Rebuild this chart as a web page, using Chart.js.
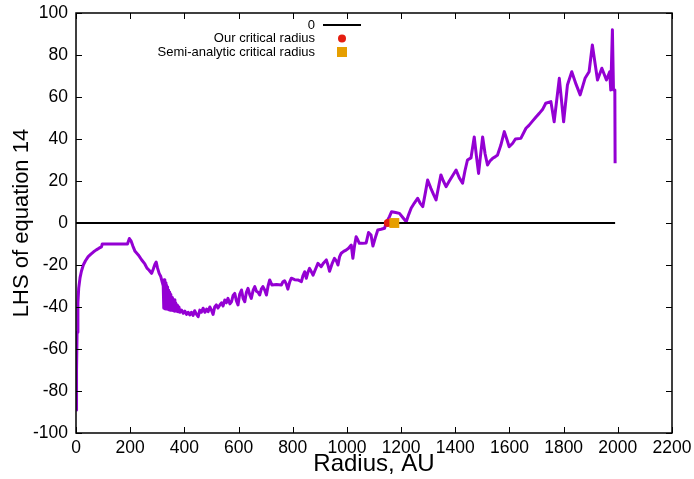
<!DOCTYPE html>
<html>
<head>
<meta charset="utf-8">
<script src="https://cdn.jsdelivr.net/npm/chart.js@4.4.1/dist/chart.umd.min.js"></script>
<style>
  html, body { margin: 0; padding: 0; background: #fff; }
  canvas { display: block; }
</style>
</head>
<body>
<canvas id="chart" width="694" height="479"></canvas>
<script>
// values
const radius = [
  1, 2, 4, 7, 10, 15, 20, 27, 35, 45, 55, 65, 75, 85, 94, 97, 190, 197, 203, 210,
  218, 230, 242, 254, 262, 270, 279, 285, 291, 296, 301, 307, 313, 318, 322, 324, 326, 328, 330, 332,
  334, 336, 338, 340, 342, 344, 346, 348, 350, 353, 356, 359, 362, 365, 368, 371, 374, 377, 380, 384,
  390, 396, 402, 408, 414, 420, 426, 432, 438, 445, 451, 457, 463, 469, 476, 482, 488, 494, 500, 506,
  512, 518, 524, 531, 537, 543, 549, 555, 561, 568, 574, 580, 586, 592, 598, 604, 611, 617, 623, 629,
  635, 641, 647, 654, 660, 666, 672, 678, 684, 690, 697, 703, 709, 715, 723, 740, 758, 764, 770, 776,
  782, 789, 795, 807, 819, 832, 838, 844, 850, 856, 862, 868, 875, 884, 893, 899, 905, 914, 924, 930,
  936, 945, 954, 961, 967, 973, 979, 988, 997, 1006, 1016, 1022, 1028, 1034, 1040, 1046, 1058, 1071, 1080, 1089,
  1096, 1105, 1114, 1126, 1139, 1145, 1157, 1165, 1180, 1194, 1207, 1219, 1228, 1237, 1249, 1261, 1270, 1280, 1289, 1298,
  1310, 1320, 1329, 1338, 1347, 1356, 1366, 1378, 1390, 1403, 1415, 1427, 1436, 1445, 1458, 1470, 1478, 1486, 1494, 1501,
  1510, 1519, 1528, 1538, 1547, 1556, 1568, 1581, 1590, 1599, 1612, 1622, 1642, 1661, 1672, 1685, 1698, 1710, 1722, 1734,
  1753, 1765, 1784, 1800, 1814, 1830, 1846, 1861, 1879, 1894, 1906, 1925, 1941, 1958, 1970, 1974, 1980, 1984, 1989, 1990
];
const lhs = [
  -89, -70, -52, -38, -31, -26, -23, -20, -18, -16, -14.8, -13.7, -12.8, -12, -11.4, -10, -10, -7.4, -8.5, -11,
  -13.5, -15.2, -17.5, -19.5, -21.5, -22.5, -24, -22, -19.8, -18.6, -21.5, -24, -25.5, -28, -30, -40.5, -27, -40.8, -28.5, -41,
  -29.5, -41, -30.5, -41.2, -32, -41.4, -33, -41.5, -34, -41.6, -35.5, -41.8, -36.5, -42, -38, -42, -39, -42.3, -40, -42.5,
  -41.5, -43, -42, -43.5, -42.5, -43.8, -42.5, -44, -41.8, -43.5, -44.6, -41.5, -42.5, -40.6, -42.5, -41, -42.2, -40, -41.5, -43.5,
  -40, -39, -40.5, -39, -38, -39.5, -36.7, -38, -35.9, -38.5, -37.5, -34.5, -33.5, -37, -39, -34, -31.9, -36, -37.5, -33,
  -31.1, -34, -35.9, -32, -30.3, -32.5, -33, -34.3, -31.5, -30.3, -32, -34.3, -30, -27.1, -29.5, -29.3, -29.5, -28, -27.5, -29,
  -31.5, -28, -26.3, -27, -27.1, -27.9, -25, -23.2, -26.3, -23.5, -21.6, -23, -24.8, -22, -19.2, -20, -20.8, -19, -17.6, -20,
  -23, -19.5, -16.8, -18, -20, -16, -14.4, -13.5, -12.9, -12, -10.5, -16.8, -11, -6.5, -8, -9.7, -9.7, -9.5, -4.5, -5.7,
  -11, -7, -3.3, -3, -2.5, 0, 3, 5.4, 5, 4.6, 2.5, 0.6, 4, 7, 9.5, 11.8, 9.5, 7.8, 14, 20.5,
  16.5, 13.5, 11, 17, 22.9, 20, 17.3, 20, 22.5, 25.2, 21.5, 19, 25, 30, 31, 41, 32, 23.6, 33, 41,
  33, 27.6, 29.5, 30.8, 31.5, 32.4, 37, 43.5, 40, 36.3, 38, 40, 40.3, 45.1, 46.5, 48.5, 50.5, 52.2, 54, 57,
  57.8, 48.2, 68.9, 48.2, 65.7, 72, 66, 61, 68.9, 72, 84.8, 68.1, 73.7, 68.1, 72, 63.3, 92, 63.3, 63.3, 28.4
];
const zeroRadius = [0, 1990];
const zeroLhs = [0, 0];
const ourCritRadius = [1151];
const ourCritLhs = [0];
const semiCritRadius = [1175];
const semiCritLhs = [0];
const xTicks = [0, 200, 400, 600, 800, 1000, 1200, 1400, 1600, 1800, 2000, 2200];
const yTicks = [-100, -80, -60, -40, -20, 0, 20, 40, 60, 80, 100];

const FONT = "'Liberation Sans', Arial, Helvetica, sans-serif";
Chart.defaults.font.family = FONT;
Chart.defaults.color = "#000";

const pts = (xs, ys) => xs.map((x, i) => ({ x: x, y: ys[i] }));

const keyItems = [
  { label: "0", kind: "line", color: "#000000" },
  { label: "Our critical radius", kind: "circle", color: "#e51e10" },
  { label: "Semi-analytic critical radius", kind: "square", color: "#e69f00" }
];

// gnuplot style frame: border + inward ticks on all sides, and the key
const frame = {
  id: "frame",
  afterDraw(chart) {
    const c = chart.ctx;
    const a = chart.chartArea;
    const xs = chart.scales.x, ys = chart.scales.y;
    const len = 6;
    c.save();
    c.strokeStyle = "#000";
    c.lineWidth = 1;
    c.beginPath();
    xTicks.forEach(v => {
      const p = Math.round(xs.getPixelForValue(v)) + 0.5;
      c.moveTo(p, a.bottom); c.lineTo(p, a.bottom - len);
      c.moveTo(p, a.top); c.lineTo(p, a.top + len);
    });
    yTicks.forEach(v => {
      const p = Math.round(ys.getPixelForValue(v)) + 0.5;
      c.moveTo(a.left, p); c.lineTo(a.left + len, p);
      c.moveTo(a.right, p); c.lineTo(a.right - len, p);
    });
    c.stroke();
    c.lineWidth = 1.5;
    c.strokeRect(a.left, a.top, a.right - a.left, a.bottom - a.top);

    // key
    c.font = "13px " + FONT;
    c.textAlign = "right";
    c.textBaseline = "middle";
    keyItems.forEach((it, i) => {
      const y = 25 + i * 13.5;
      c.fillStyle = "#000";
      c.fillText(it.label, 315, y);
      c.fillStyle = it.color;
      c.strokeStyle = it.color;
      if (it.kind === "line") {
        c.lineWidth = 2;
        c.beginPath(); c.moveTo(323, y); c.lineTo(361, y); c.stroke();
      } else if (it.kind === "circle") {
        c.beginPath(); c.arc(342, y, 4, 0, Math.PI * 2); c.fill();
      } else {
        c.fillRect(337, y - 5, 10, 10);
      }
    });
    c.restore();
  }
};

const noPad = s => { s.paddingTop = 0; s.paddingBottom = 0; s.paddingLeft = 0; s.paddingRight = 0; };

new Chart(document.getElementById("chart"), {
  type: "scatter",
  data: {
    datasets: [
      {
        data: pts(semiCritRadius, semiCritLhs),
        pointStyle: "rect", pointRadius: 7, pointBackgroundColor: "#e69f00",
        pointBorderWidth: 0, order: 0
      },
      {
        data: pts(ourCritRadius, ourCritLhs),
        pointStyle: "circle", pointRadius: 4, pointBackgroundColor: "#e51e10",
        pointBorderWidth: 0, order: 1
      },
      {
        data: pts(zeroRadius, zeroLhs),
        showLine: true, borderColor: "#000", borderWidth: 2, pointRadius: 0, order: 2
      },
      {
        data: pts(radius, lhs),
        showLine: true, borderColor: "#9400d3", borderWidth: 3, pointRadius: 0,
        borderJoinStyle: "round", order: 3
      }
    ]
  },
  options: {
    responsive: false,
    animation: false,
    devicePixelRatio: 1,
    layout: { padding: { left: 0, right: 22, top: 13, bottom: 0 } },
    plugins: { legend: { display: false }, tooltip: { enabled: false } },
    scales: {
      x: {
        type: "linear", min: 0, max: 2200,
        afterBuildTicks: s => { s.ticks = xTicks.map(v => ({ value: v })); },
        afterFit: s => { s.height = 46; noPad(s); },
        grid: { display: false, drawTicks: false },
        border: { display: false },
        ticks: { font: { size: 17.5 }, padding: 5, maxRotation: 0, autoSkip: false, callback: v => String(v) },
        title: { display: true, text: "Radius, AU", font: { size: 24 }, padding: { top: 0, bottom: 0 } }
      },
      y: {
        type: "linear", min: -100, max: 100,
        afterBuildTicks: s => { s.ticks = yTicks.map(v => ({ value: v })); },
        afterFit: s => { s.width = 76; noPad(s); },
        grid: { display: false, drawTicks: false },
        border: { display: false },
        ticks: { font: { size: 17.5 }, padding: 8, autoSkip: false, callback: v => String(v) },
        title: { display: true, text: "LHS of equation 14", font: { size: 22 }, padding: { top: 9, bottom: 0 } }
      }
    }
  },
  plugins: [frame]
});
</script>
</body>
</html>
